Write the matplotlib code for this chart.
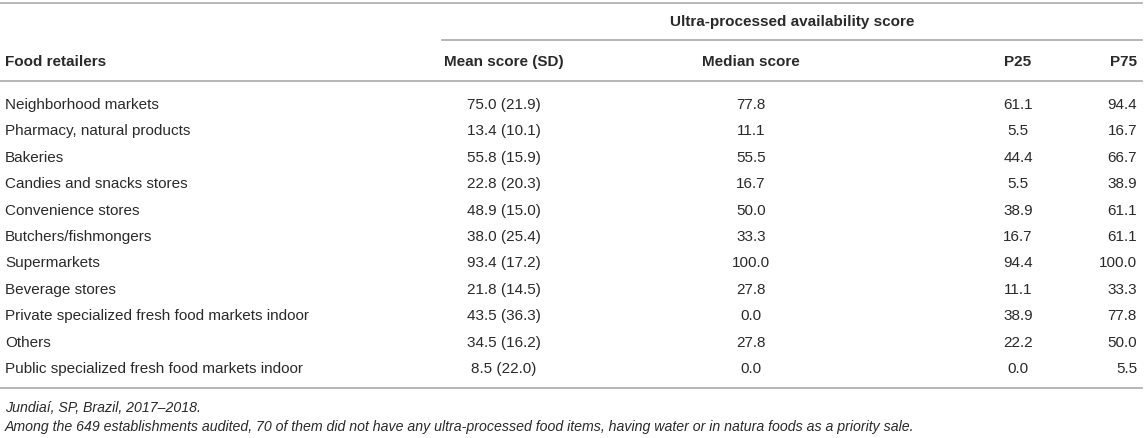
import matplotlib
matplotlib.use("Agg")
import matplotlib.pyplot as plt

retailers = [
    "Neighborhood markets",
    "Pharmacy, natural products",
    "Bakeries",
    "Candies and snacks stores",
    "Convenience stores",
    "Butchers/fishmongers",
    "Supermarkets",
    "Beverage stores",
    "Private specialized fresh food markets indoor",
    "Others",
    "Public specialized fresh food markets indoor",
]
mean_score = [75.0, 13.4, 55.8, 22.8, 48.9, 38.0, 93.4, 21.8, 43.5, 34.5, 8.5]
sd_score = [21.9, 10.1, 15.9, 20.3, 15.0, 25.4, 17.2, 14.5, 36.3, 16.2, 22.0]
median_score = [77.8, 11.1, 55.5, 16.7, 50.0, 33.3, 100.0, 27.8, 0.0, 27.8, 0.0]
p25 = [61.1, 5.5, 44.4, 5.5, 38.9, 16.7, 94.4, 11.1, 38.9, 22.2, 0.0]
p75 = [94.4, 16.7, 66.7, 38.9, 61.1, 61.1, 100.0, 33.3, 77.8, 50.0, 5.5]

spanner = "Ultra-processed availability score"
col_headers = ["Food retailers", "Mean score (SD)", "Median score", "P25", "P75"]
footnotes = [
    "Jundiaí, SP, Brazil, 2017–2018.",
    "Among the 649 establishments audited, 70 of them did not have any ultra-processed food items, having water or in natura foods as a priority sale.",
]

W, H = 1146, 439
DPI = 100
plt.rcParams["font.family"] = ["Liberation Sans", "DejaVu Sans"]
fig = plt.figure(figsize=(W / DPI, H / DPI), dpi=DPI)
ax = fig.add_axes([0, 0, 1, 1])
ax.set_xlim(0, W)
ax.set_ylim(H, 0)
ax.axis("off")

txt = "#2a2a2a"
line_c = "#aaaaaa"
fs = 11

# rules
ax.plot([0, 1142], [4, 4], color=line_c, lw=1.2)
ax.plot([442, 1142], [41, 41], color=line_c, lw=1.2)
ax.plot([0, 1142], [82, 82], color=line_c, lw=1.2)
ax.plot([0, 1142], [389, 389], color=line_c, lw=1.2)

# headers
ax.text(792, 22, spanner, ha="center", va="center", fontsize=fs, fontweight="bold", color=txt)
hx = [5, 504, 751, 1018, 1137]
hha = ["left", "center", "center", "center", "right"]
for h, x, a in zip(col_headers, hx, hha):
    ax.text(x, 62, h, ha=a, va="center", fontsize=fs, fontweight="bold", color=txt)

# body
y0, dy = 105, 26.4
for i, name in enumerate(retailers):
    y = y0 + i * dy
    ax.text(5, y, name, ha="left", va="center", fontsize=fs, color=txt)
    ax.text(504, y, f"{mean_score[i]:.1f} ({sd_score[i]:.1f})", ha="center", va="center", fontsize=fs, color=txt)
    ax.text(751, y, f"{median_score[i]:.1f}", ha="center", va="center", fontsize=fs, color=txt)
    ax.text(1018, y, f"{p25[i]:.1f}", ha="center", va="center", fontsize=fs, color=txt)
    ax.text(1137, y, f"{p75[i]:.1f}", ha="right", va="center", fontsize=fs, color=txt)

# footnotes
for j, f in enumerate(footnotes):
    ax.text(5, 408 + j * 19, f, ha="left", va="center", fontsize=10.2, style="italic", color=txt)

fig.savefig("out.png", dpi=DPI)
